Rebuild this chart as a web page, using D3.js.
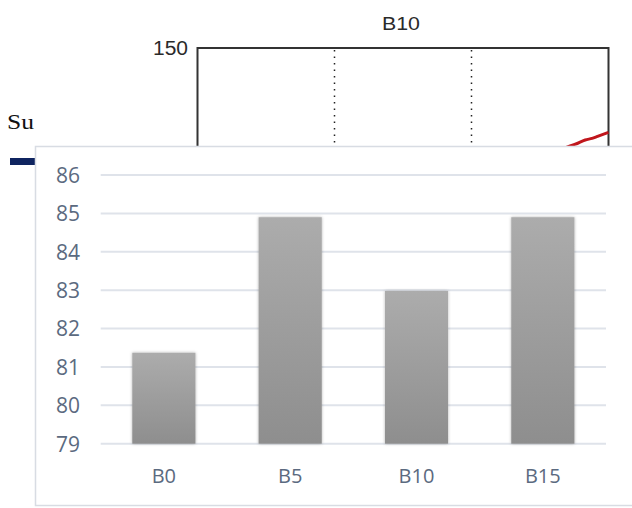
<!DOCTYPE html>
<html>
<head>
<meta charset="utf-8">
<script src="https://cdn.jsdelivr.net/npm/d3@7"></script>
<style>
  html, body { margin: 0; padding: 0; background: #fff; }
  svg { display: block; }
</style>
</head>
<body>
<svg id="chart" width="632" height="508"></svg>
<script>
// Bar chart data
const categories = ["B0", "B5", "B10", "B15"];
const values = [81.37, 84.9, 82.98, 84.9];
const yTicks = [79, 80, 81, 82, 83, 84, 85, 86];

// Background panel (partly covered) data
const panelTitle = "B10";
const panelTickLabels = [150];
const panelDividers = [1, 2];
const redX = [2.55, 2.65, 2.72, 2.78, 2.83, 2.88, 2.92, 2.96, 3.0];
const redY = [96, 99, 101, 102.5, 104, 104.8, 105.8, 106.8, 107.8];

const svg = d3.select("#chart");

// ---- background panel ----
const px = d3.scaleLinear().domain([0, 3]).range([197.5, 608.5]);
const py = d3.scaleLinear().domain([50, 150]).range([248, 48]);

svg.append("text")
  .attr("x", 401).attr("y", 30)
  .attr("text-anchor", "middle")
  .attr("font-family", "Liberation Sans, Arial, sans-serif")
  .attr("font-size", 18)
  .attr("textLength", 38).attr("lengthAdjust", "spacingAndGlyphs")
  .attr("fill", "#2a2a2a")
  .text(panelTitle);

svg.selectAll("text.ptick").data(panelTickLabels).enter().append("text")
  .attr("class", "ptick")
  .attr("x", 188).attr("y", d => py(d) + 7)
  .attr("text-anchor", "end")
  .attr("font-family", "Liberation Sans, Arial, sans-serif")
  .attr("font-size", 20)
  .attr("textLength", 35).attr("lengthAdjust", "spacingAndGlyphs")
  .attr("fill", "#2a2a2a")
  .text(d => d);

svg.selectAll("line.pdiv").data(panelDividers).enter().append("line")
  .attr("class", "pdiv")
  .attr("x1", d => px(d)).attr("x2", d => px(d))
  .attr("y1", py(150) + 2).attr("y2", 150)
  .attr("stroke", "#222").attr("stroke-width", 1.5)
  .attr("stroke-dasharray", "1.5,5");

svg.append("path")
  .attr("d", `M${px(0)},150 V${py(150)} H${px(3)} V150`)
  .attr("fill", "none").attr("stroke", "#333").attr("stroke-width", 2);

const redLine = d3.line().x((d, i) => px(redX[i])).y(d => py(d)).curve(d3.curveMonotoneX);
svg.append("path")
  .attr("d", redLine(redY))
  .attr("fill", "none").attr("stroke", "#c0161c").attr("stroke-width", 3);

svg.append("text")
  .attr("x", 7).attr("y", 129)
  .attr("font-family", "Liberation Serif, Times New Roman, serif")
  .attr("font-size", 21)
  .attr("textLength", 27).attr("lengthAdjust", "spacingAndGlyphs")
  .attr("fill", "#111")
  .text("Su");

svg.append("rect")
  .attr("x", 10).attr("y", 158).attr("width", 30).attr("height", 7)
  .attr("fill", "#0f2460");

// ---- bar chart card ----
svg.append("rect")
  .attr("x", 35.5).attr("y", 146.5).attr("width", 620).attr("height", 359)
  .attr("fill", "#fff").attr("stroke", "#d8dce3").attr("stroke-width", 1.5);

const defs = svg.append("defs");
const grad = defs.append("linearGradient")
  .attr("id", "barGrad").attr("x1", 0).attr("y1", 0).attr("x2", 0).attr("y2", 1);
grad.append("stop").attr("offset", "0%").attr("stop-color", "#acacac");
grad.append("stop").attr("offset", "100%").attr("stop-color", "#8e8e8e");
const shadow = defs.append("filter").attr("id", "barShadow")
  .attr("x", "-20%").attr("y", "-10%").attr("width", "140%").attr("height", "120%");
shadow.append("feDropShadow")
  .attr("dx", 0).attr("dy", 0).attr("stdDeviation", 1.8)
  .attr("flood-color", "#000").attr("flood-opacity", 0.3);

const x = d3.scaleBand().domain(categories).range([100.7, 606])
  .paddingInner(0.5).paddingOuter(0.25);
const y = d3.scaleLinear().domain([79, 86]).range([443.7, 175]);

const labelFont = "Open Sans, Noto Sans, sans-serif";

// gridlines + value labels
const yAxis = d3.axisLeft(y).tickValues(yTicks).tickFormat(d3.format("d"))
  .tickSize(0).tickPadding(0);
const gy = svg.append("g").attr("transform", "translate(80,0)").call(yAxis);
gy.select(".domain").remove();
gy.selectAll("text")
  .attr("font-family", labelFont).attr("font-size", 21)
  .attr("fill", "#5b6a80").attr("dy", "0.35em");

svg.selectAll("line.grid").data(yTicks).enter().append("line")
  .attr("class", "grid")
  .attr("x1", 100.7).attr("x2", 606)
  .attr("y1", d => y(d)).attr("y2", d => y(d))
  .attr("stroke", "#dfe3ea").attr("stroke-width", 2);

// bars
svg.selectAll("rect.bar").data(values).enter().append("rect")
  .attr("class", "bar")
  .attr("x", (d, i) => x(categories[i]))
  .attr("width", x.bandwidth())
  .attr("y", d => y(d))
  .attr("height", d => y(79) - y(d))
  .attr("fill", "url(#barGrad)")
  .attr("filter", "url(#barShadow)");

// category labels
const xAxis = d3.axisBottom(x).tickSize(0).tickPadding(0);
const gx = svg.append("g").attr("transform", "translate(0,476)").call(xAxis);
gx.select(".domain").remove();
gx.selectAll("text")
  .attr("font-family", labelFont).attr("font-size", 20)
  .attr("fill", "#5b6a80").attr("dy", "0.35em");
</script>
</body>
</html>
